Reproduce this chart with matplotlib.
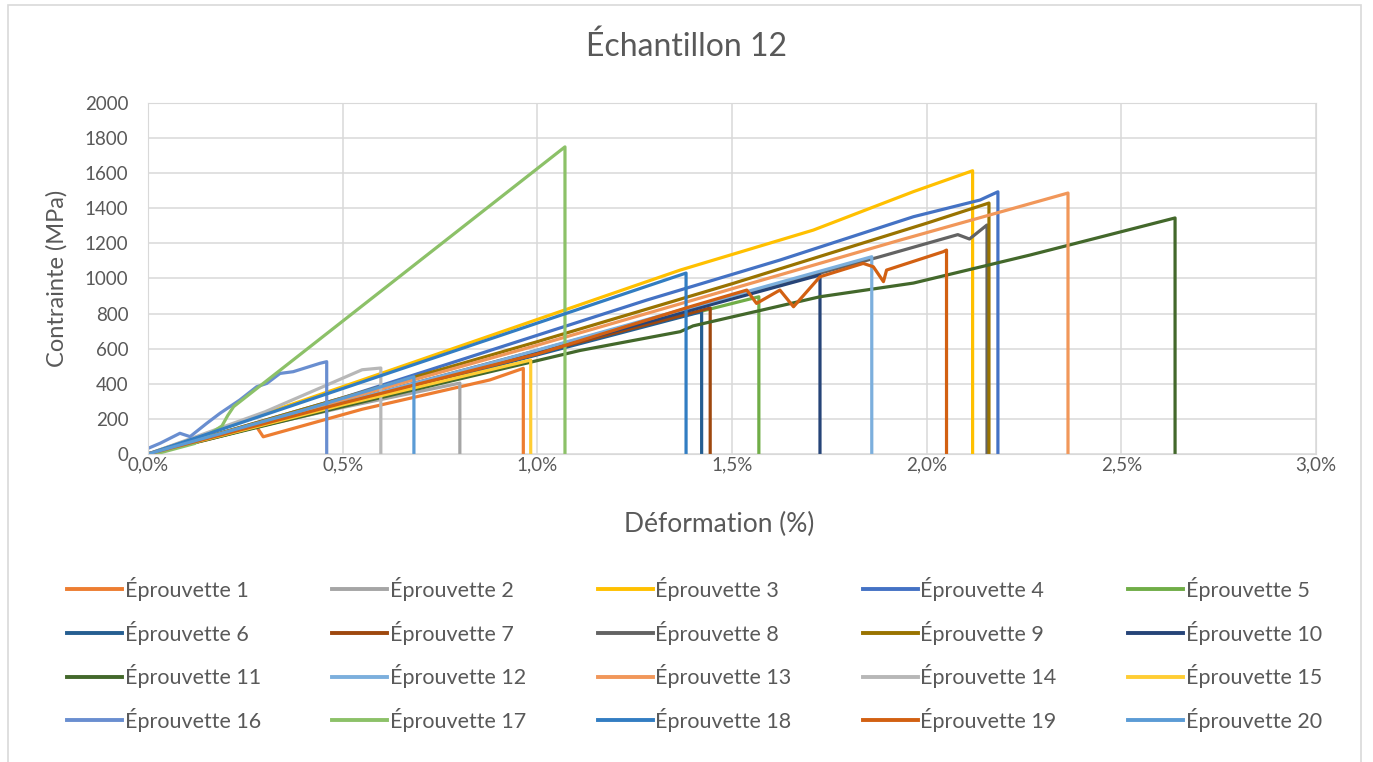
import matplotlib
matplotlib.use("Agg")
import matplotlib.pyplot as plt
from matplotlib.ticker import FuncFormatter, MultipleLocator
from matplotlib.patches import Rectangle

plt.rcParams['font.family'] = ['Lato', 'DejaVu Sans']

# strain (%) / stress (MPa), last point = rupture drop
ep1_x = [0, 0.15, 0.279, 0.296, 0.55, 0.878, 0.964, 0.964]
ep1_y = [0, 80, 155, 98, 255, 422, 488, 0]
ep2_x = [0, 0.25, 0.5, 0.801, 0.801]
ep2_y = [0, 140, 265, 404, 0]
ep3_x = [0, 1.367, 1.709, 1.966, 2.118, 2.118]
ep3_y = [0, 1048, 1276, 1495, 1614, 0]
ep4_x = [0, 0.5, 1.281, 1.623, 1.966, 2.137, 2.183, 2.183]
ep4_y = [0, 320, 877, 1105, 1352, 1447, 1494, 0]
ep5_x = [0, 0.6, 1.2, 1.569, 1.569]
ep5_y = [0, 330, 690, 896, 0]
ep6_x = [0, 0.7, 1.422, 1.422]
ep6_y = [0, 390, 811, 0]
ep7_x = [0, 0.7, 1.444, 1.444]
ep7_y = [0, 400, 832, 0]
ep8_x = [0, 1.0, 1.88, 2.08, 2.11, 2.155, 2.155]
ep8_y = [0, 590, 1124, 1250, 1225, 1305, 0]
ep9_x = [0, 1.0, 1.5, 2.0, 2.16, 2.16]
ep9_y = [0, 640, 970, 1315, 1430, 0]
ep10_x = [0, 0.8, 1.726, 1.726]
ep10_y = [0, 460, 1020, 0]
ep11_x = [0, 0.5, 1.11, 1.367, 1.40, 1.726, 1.966, 2.266, 2.638, 2.638]
ep11_y = [0, 270, 590, 697, 730, 896, 974, 1134, 1345, 0]
ep12_x = [0, 0.9, 1.859, 1.859]
ep12_y = [0, 530, 1124, 0]
ep13_x = [0, 1.0, 1.932, 2.363, 2.363]
ep13_y = [0, 620, 1219, 1487, 0]
ep14_x = [0, 0.3, 0.55, 0.598, 0.598]
ep14_y = [0, 240, 480, 490, 0]
ep15_x = [0, 0.5, 0.983, 0.983]
ep15_y = [0, 280, 535, 0]
ep16_x = [0, 0.031, 0.082, 0.108, 0.151, 0.185, 0.236, 0.279, 0.305, 0.339, 0.373, 0.442, 0.459, 0.459]
ep16_y = [32, 61, 118, 99, 175, 232, 308, 383, 402, 459, 469, 517, 526, 0]
ep17_x = [0.02, 0.12, 0.19, 0.205, 0.22, 1.071, 1.071]
ep17_y = [0, 60, 160, 220, 270, 1750, 0]
ep18_x = [0, 1.382, 1.382]
ep18_y = [0, 1031, 0]
ep19_x = [0, 0.5, 1.0, 1.392, 1.538, 1.563, 1.623, 1.658, 1.726, 1.837, 1.863, 1.889, 1.897, 2.043, 2.051, 2.051]
ep19_y = [0, 290, 570, 839, 934, 858, 934, 839, 1010, 1086, 1067, 982, 1048, 1153, 1162, 0]
ep20_x = [0, 0.4, 0.683, 0.683]
ep20_y = [0, 250, 440, 0]

series_x = [ep1_x, ep2_x, ep3_x, ep4_x, ep5_x, ep6_x, ep7_x, ep8_x, ep9_x, ep10_x,
            ep11_x, ep12_x, ep13_x, ep14_x, ep15_x, ep16_x, ep17_x, ep18_x, ep19_x, ep20_x]
series_y = [ep1_y, ep2_y, ep3_y, ep4_y, ep5_y, ep6_y, ep7_y, ep8_y, ep9_y, ep10_y,
            ep11_y, ep12_y, ep13_y, ep14_y, ep15_y, ep16_y, ep17_y, ep18_y, ep19_y, ep20_y]
labels = ["Éprouvette %d" % i for i in range(1, 21)]
colours = ["#ED7D31", "#A5A5A5", "#FFC000", "#4472C4", "#70AD47",
           "#255E91", "#9E480E", "#636363", "#997300", "#264478",
           "#43682B", "#7CAFDD", "#F1975A", "#B7B7B7", "#FFCD33",
           "#698ED0", "#8CC168", "#327DC2", "#D26012", "#5B9BD5"]

W, H = 1373, 762
fig = plt.figure(figsize=(W / 100, H / 100), dpi=100)
fig.patches.append(Rectangle((8 / W, -0.01), (1361 - 8) / W, 1 - 5 / H + 0.01,
                             transform=fig.transFigure, fill=False,
                             edgecolor="#D9D9D9", linewidth=1.2))

ax = fig.add_axes([148 / W, 1 - 454 / H, (1316 - 148) / W, (454 - 103) / H])
grey_txt = "#595959"
handles = []
for xs, ys, c, lab in zip(series_x, series_y, colours, labels):
    h, = ax.plot(xs, ys, color=c, lw=2.3, label=lab, solid_joinstyle="round")
    handles.append(h)

ax.set_xlim(0, 3)
ax.set_ylim(0, 2000)
ax.xaxis.set_major_locator(MultipleLocator(0.5))
ax.yaxis.set_major_locator(MultipleLocator(200))
ax.xaxis.set_major_formatter(FuncFormatter(lambda v, p: ("%.1f%%" % v).replace(".", ",")))
ax.grid(True, color="#D9D9D9", lw=1.1)
ax.set_axisbelow(True)
for s in ax.spines.values():
    s.set_color("#D9D9D9")
ax.tick_params(length=0, labelsize=13.5, labelcolor=grey_txt)
ax.tick_params(axis="y", pad=14)
ax.tick_params(axis="x", pad=2)

ax.set_xlabel("Déformation (%)", fontsize=19, color=grey_txt, va="center")
ax.xaxis.set_label_coords((719 - 148) / 1168, -(524 - 454) / 351)
ax.set_ylabel("Contrainte (MPa)", fontsize=17, color=grey_txt, va="center")
ax.yaxis.set_label_coords(-(148 - 57) / 1168, 0.5)

fig.text(0.5, 1 - 47 / H, "Échantillon 12", ha="center", va="center",
         fontsize=23, color=grey_txt)

# legend is filled column-wise, so reorder to get row-wise order
order = [r * 5 + c for c in range(5) for r in range(4)]
fs = 15.5
px = fs * 100 / 72
leg = fig.legend([handles[i] for i in order], [labels[i] for i in order],
                 loc="upper left", bbox_to_anchor=(67 / W, 1 - 577 / H),
                 ncol=5, frameon=False, fontsize=fs, handlelength=55 / px,
                 handletextpad=0.12, columnspacing=71.5 / px, labelspacing=0.91,
                 borderpad=0, borderaxespad=0)
for t in leg.get_texts():
    t.set_color(grey_txt)
for l in leg.get_lines():
    l.set_linewidth(2.8)

fig.savefig("out.png", dpi=100)
